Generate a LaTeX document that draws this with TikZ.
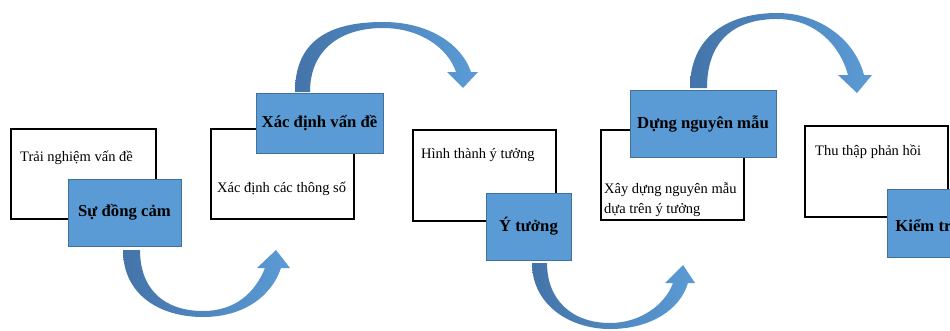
\documentclass[tikz,border=0pt]{standalone}
\usepackage{fontspec}
\setmainfont{Liberation Serif}
\definecolor{blaufill}{HTML}{5B9BD5}
\definecolor{blaurand}{HTML}{41719C}
\definecolor{pfeildunkel}{HTML}{4474A9}
\begin{document}
\begin{tikzpicture}[x=1pt,y=-1pt,
    weiss/.style={draw=black, line width=2pt, fill=white, inner sep=0pt,
        anchor=north west, minimum width=143pt, minimum height=90pt},
    blau/.style={draw=blaurand, line width=0.8pt, fill=blaufill, inner sep=0pt,
        font=\fontsize{16.7}{19}\selectfont\bfseries},
    klein/.style={anchor=west, inner sep=0pt, align=left,
        font=\fontsize{14.5}{20}\selectfont},
    bogen/.style={left color=pfeildunkel, right color=blaufill}]
    \useasboundingbox (0,0) rectangle (950,330);
    \clip (0,0) rectangle (950,330);
    % Boegen unten:
    \shade[bogen] (123,250) .. controls (123,295) and (160,317) .. (203,317)
        .. controls (245,317) and (272,295) .. (281,268)
        -- (290,268) -- (276,250) -- (257,268) -- (265,268)
        .. controls (255,293) and (235,311) .. (203,311)
        .. controls (165,311) and (140,290) .. (140,250) -- cycle;
    \shade[bogen] (532,263) .. controls (532,305) and (570,329) .. (610,329)
        .. controls (650,329) and (680,310) .. (688,283)
        -- (695,283) -- (683,265) -- (665,283) -- (673,283)
        .. controls (665,305) and (640,323) .. (610,323)
        .. controls (572,323) and (547,300) .. (547,263) -- cycle;
    % Boegen oben:
    \shade[bogen] (295,92) .. controls (295,40) and (330,22) .. (383,22)
        .. controls (430,22) and (462,45) .. (471,72)
        -- (478,72) -- (463,88) -- (447,72) -- (456,72)
        .. controls (448,48) and (420,28) .. (383,28)
        .. controls (340,28) and (310,50) .. (310,92) -- cycle;
    \shade[bogen] (690,88) .. controls (690,35) and (730,13) .. (777,13)
        .. controls (820,13) and (855,40) .. (864,75)
        -- (872,75) -- (857,93) -- (838,75) -- (848,75)
        .. controls (840,45) and (815,19) .. (777,19)
        .. controls (735,19) and (707,40) .. (707,88) -- cycle;
    % weisse Kaesten:
    \node[weiss, minimum width=145pt] (w1) at (10,128) {};
    \node[weiss] (w2) at (210,128) {};
    \node[weiss, minimum height=91pt] (w3) at (412,129) {};
    \node[weiss] (w4) at (600,129) {};
    \node[weiss, minimum height=91pt] (w5) at (804,125) {};
    % Texte:
    \node[klein] (t1) at (20,158) {Trải nghiệm vấn đề};
    \node[klein] (t2) at (217,189) {Xác định các thông số};
    \node[klein] (t3) at (421,155) {Hình thành ý tưởng};
    \node[klein] (t4) at (604,200) {Xây dựng nguyên mẫu\\dựa trên ý tưởng};
    \node[klein] (t5) at (815,152) {Thu thập phản hồi};
    % blaue Kaesten:
    \node[blau, minimum width=113pt, minimum height=67pt] (b1) at (124.5,212.5) {Sự đồng cảm};
    \node[blau, minimum width=127pt, minimum height=60pt] (b2) at (319.5,123) {Xác định vấn đề};
    \node[blau, minimum width=85pt, minimum height=67pt] (b3) at (528.5,226.5) {Ý tưởng};
    \node[blau, minimum width=146pt, minimum height=67pt] (b4) at (703,123.5) {Dựng nguyên mẫu};
    \node[blau, minimum width=90pt, minimum height=68pt] (b5) at (932,223) {};
    \node[blau, draw=none, fill=none, anchor=west] (k5) at (895,226) {Kiểm tra};
\end{tikzpicture}
\end{document}
